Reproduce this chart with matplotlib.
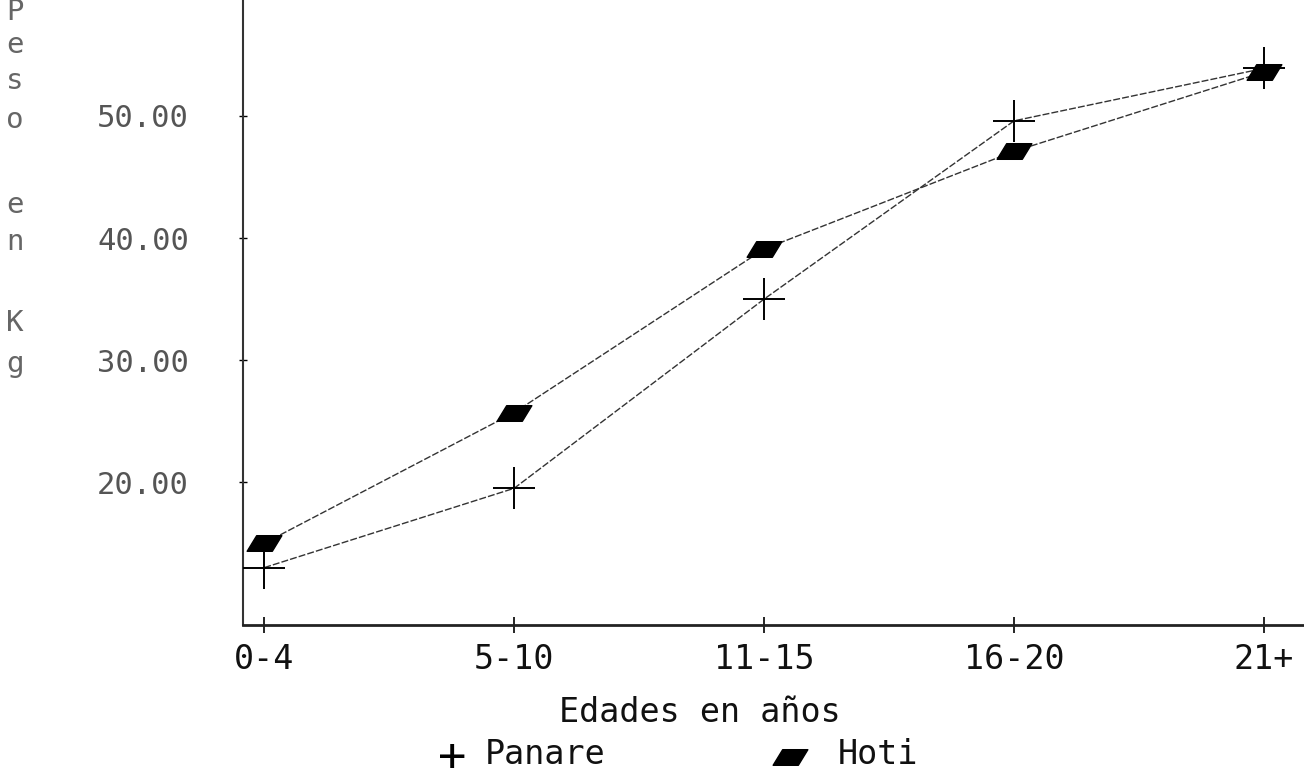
import matplotlib
matplotlib.use("Agg")
import matplotlib.pyplot as plt
from matplotlib.path import Path

categories = ["0-4", "5-10", "11-15", "16-20", "21+"]
panare = [13.0, 19.5, 35.0, 49.6, 53.9]
hoti = [15.0, 25.7, 39.1, 47.1, 53.6]
yticks = [20, 30, 40, 50]
ytick_labels = ["20.00", "30.00", "40.00", "50.00"]

FONT = "DejaVu Sans Mono"
plt.rcParams['font.family'] = [FONT]

fig = plt.figure(figsize=(13.04, 7.82), dpi=100)
ax = fig.add_axes([243/1304, 1 - 625/782, 1 - 243/1304, 625/782])

para = Path([(-1.0, -0.45), (0.45, -0.45), (1.0, 0.45), (-0.45, 0.45), (-1.0, -0.45)],
            [Path.MOVETO, Path.LINETO, Path.LINETO, Path.LINETO, Path.CLOSEPOLY])

x = list(range(len(categories)))
ax.plot(x, hoti, color="#333333", lw=1.0, ls=(0, (5, 1.5)), zorder=2)
ax.plot(x, panare, color="#333333", lw=1.0, ls=(0, (5, 1.5)), zorder=2)
ax.plot(x, hoti, ls="none", marker=para, markersize=25, color="black", zorder=3)
ax.plot(x, panare, ls="none", marker="+", markersize=30, markeredgewidth=1.4, color="black", zorder=3)

ax.set_xlim(-0.085, 4.16)
ax.set_ylim(8.3, 59.5)
ax.set_xticks(x)
ax.set_xticklabels(categories, fontsize=24, color="#111111")
ax.set_yticks(yticks)
ax.set_yticklabels(ytick_labels, fontsize=22, color="#555555")
ax.tick_params(axis="x", direction="inout", length=12, width=1.2, pad=7)
ax.tick_params(axis="y", direction="inout", length=6, width=1.0, pad=36)

for s in ["top", "right"]:
    ax.spines[s].set_visible(False)
ax.spines["left"].set_linewidth(1.5)
ax.spines["bottom"].set_linewidth(2.0)
ax.spines["left"].set_color("#333333")
ax.spines["bottom"].set_color("#222222")

# x label
fig.text(700/1304, 1 - 712/782, "Edades en años", ha="center", va="center",
         fontsize=24, color="#111111")

# legend
fig.text(452/1304, 1 - 758/782, "+", ha="center", va="center", fontsize=34, color="black")
fig.text(485/1304, 1 - 755/782, "Panare", ha="left", va="center", fontsize=24, color="#111111")
fig.lines.append(plt.Line2D([790/1304], [1 - 757/782], transform=fig.transFigure,
                            marker=para, markersize=25, color="black", ls="none"))
fig.text(838/1304, 1 - 755/782, "Hoti", ha="left", va="center", fontsize=24, color="#111111")

# vertical stacked y label
letters = ["P", "e", "s", "o", "", "e", "n", "", "K", "g"]
ypos = [12, 45, 81, 120, None, 205, 242, None, 323, 364]
for ch, yp in zip(letters, ypos):
    if ch:
        fig.text(15/1304, 1 - yp/782, ch, ha="center", va="center",
                 fontsize=21, color="#666666")

fig.savefig("out.png", dpi=100)
